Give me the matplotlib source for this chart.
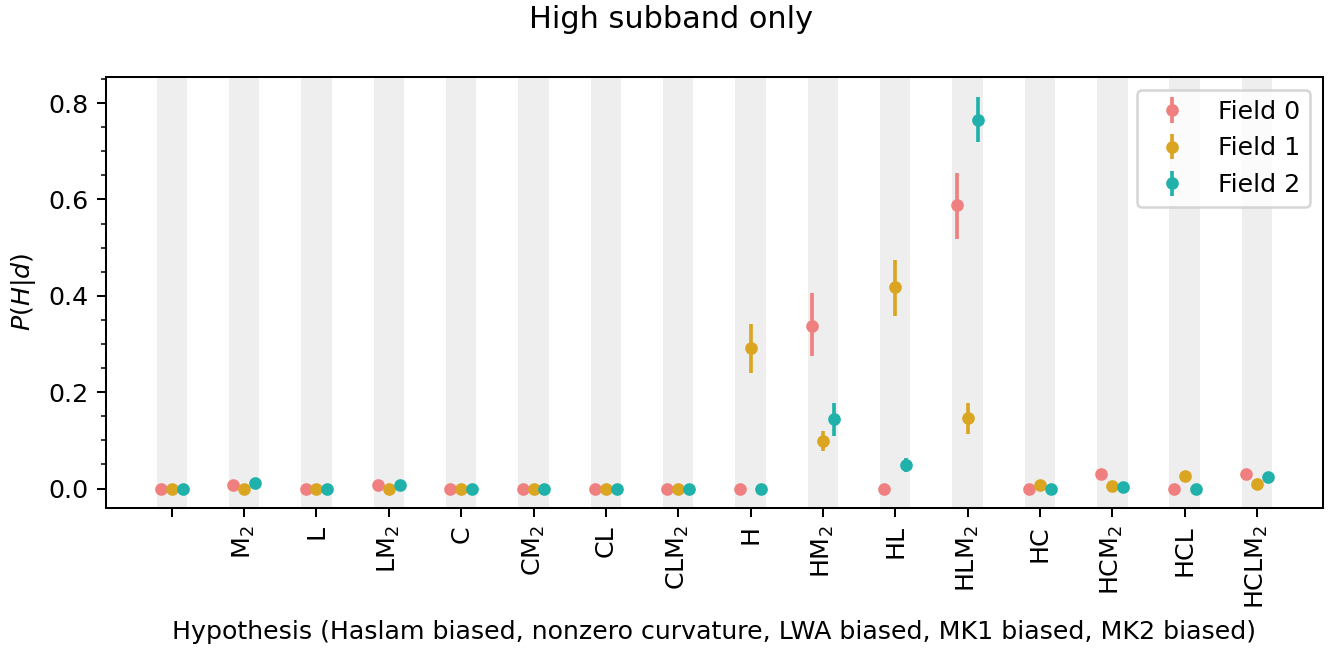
import matplotlib
matplotlib.use("Agg")
import matplotlib.pyplot as plt
import numpy as np
from matplotlib.ticker import MultipleLocator

hypotheses = ['', 'M$_2$', 'L', 'LM$_2$', 'C', 'CM$_2$', 'CL', 'CLM$_2$',
              'H', 'HM$_2$', 'HL', 'HLM$_2$', 'HC', 'HCM$_2$', 'HCL', 'HCLM$_2$']

field0 = [0.0, 0.008, 0.0, 0.008, 0.0, 0.0, 0.0, 0.0,
          0.0, 0.338, 0.0, 0.588, 0.0, 0.030, 0.0, 0.030]
field0_lo = [0.0, 0.008, 0.0, 0.008, 0.0, 0.0, 0.0, 0.0,
             0.0, 0.275, 0.0, 0.517, 0.0, 0.030, 0.0, 0.030]
field0_hi = [0.0, 0.008, 0.0, 0.008, 0.0, 0.0, 0.0, 0.0,
             0.0, 0.405, 0.0, 0.655, 0.0, 0.030, 0.0, 0.030]

field1 = [0.0, 0.0, 0.0, 0.0, 0.0, 0.0, 0.0, 0.0,
          0.291, 0.099, 0.419, 0.146, 0.007, 0.005, 0.026, 0.009]
field1_lo = [0.0, 0.0, 0.0, 0.0, 0.0, 0.0, 0.0, 0.0,
             0.239, 0.078, 0.359, 0.113, 0.007, 0.005, 0.026, 0.009]
field1_hi = [0.0, 0.0, 0.0, 0.0, 0.0, 0.0, 0.0, 0.0,
             0.341, 0.120, 0.475, 0.177, 0.007, 0.005, 0.026, 0.009]

field2 = [0.0, 0.011, 0.0, 0.007, 0.0, 0.0, 0.0, 0.0,
          0.0, 0.144, 0.049, 0.765, 0.0, 0.004, 0.0, 0.023]
field2_lo = [0.0, 0.011, 0.0, 0.007, 0.0, 0.0, 0.0, 0.0,
             0.0, 0.110, 0.034, 0.720, 0.0, 0.004, 0.0, 0.023]
field2_hi = [0.0, 0.011, 0.0, 0.007, 0.0, 0.0, 0.0, 0.0,
             0.0, 0.177, 0.063, 0.813, 0.0, 0.004, 0.0, 0.023]

series = [
    ("Field 0", field0, field0_lo, field0_hi, "#F08080", -0.15),
    ("Field 1", field1, field1_lo, field1_hi, "#DAA520", 0.0),
    ("Field 2", field2, field2_lo, field2_hi, "#20B2AA", 0.15),
]

DPI = 182
fig = plt.figure(figsize=(1343 / DPI, 651 / DPI), dpi=DPI)
ax = fig.add_axes([0.0789, 0.2204, 0.9061, 0.6613])

x = np.arange(len(hypotheses))
for i in x:
    ax.axvspan(i - 0.21, i + 0.21, color="#EEEEEE", lw=0, zorder=0)

for name, v, lo, hi, col, off in series:
    v = np.array(v); lo = np.array(lo); hi = np.array(hi)
    yerr = np.vstack([v - lo, hi - v])
    ax.errorbar(x + off, v, yerr=yerr, fmt='o', color=col, ms=4.0,
                elinewidth=1.45, capsize=0, label=name, zorder=3)

ax.set_xticks(x)
ax.set_xticklabels(hypotheses, rotation=90)
ax.set_xlim(-0.91, 15.91)
ax.set_ylim(-0.0394, 0.854)
ax.yaxis.set_major_locator(MultipleLocator(0.2))
ax.yaxis.set_minor_locator(MultipleLocator(0.05))
ax.set_ylabel('$P(H|d)$')
ax.set_xlabel('Hypothesis (Haslam biased, nonzero curvature, LWA biased, MK1 biased, MK2 biased)')
ax.legend(loc='upper right')
fig.suptitle('High subband only', y=0.993, fontsize=12)

fig.savefig('out.png', dpi=DPI)
